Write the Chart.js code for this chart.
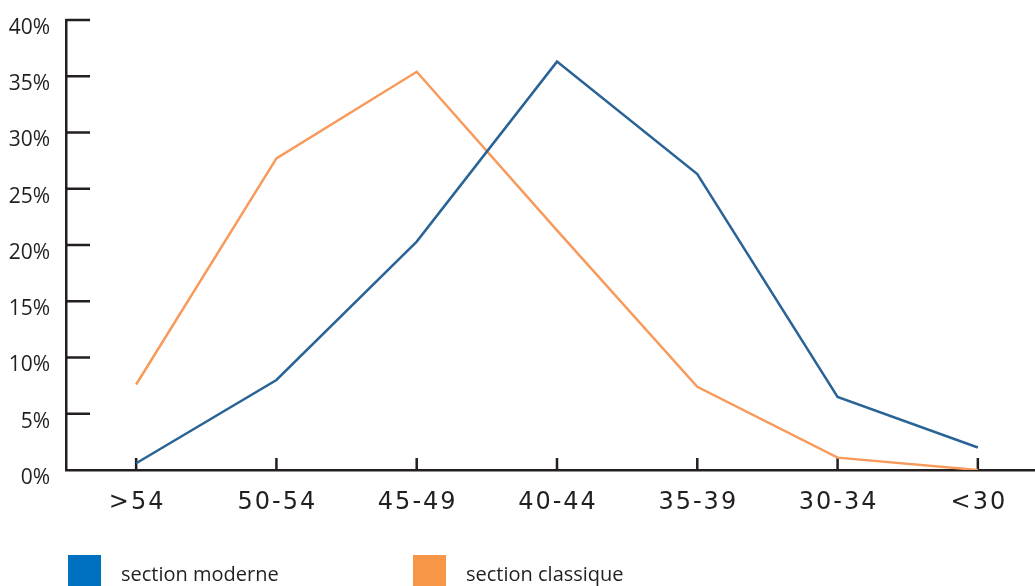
<!DOCTYPE html>
<html lang="fr">
<head>
    <meta charset="utf-8" />
    <title>Sections par tranche d'âge</title>
    <script src="https://cdn.jsdelivr.net/npm/chart.js@4.4.0/dist/chart.umd.min.js"></script>
    <style>
        html, body { margin: 0; padding: 0; background: #fff; overflow: hidden; }
        #wrap { width: 1048px; height: 586px; position: relative; }
    </style>
</head>
<body>
    <div id="wrap"><canvas id="chart"></canvas></div>
    <script>
        // Tranches d'âge et parts (%)
        const categories = ['>54', '50-54', '45-49', '40-44', '35-39', '30-34', '<30'];
        const moderne = [0.6, 8.0, 20.3, 36.3, 26.3, 6.5, 2.0];
        const classique = [7.6, 27.7, 35.4, 21.3, 7.4, 1.1, 0.0];
        const yTicks = [0, 5, 10, 15, 20, 25, 30, 35, 40];

        const axisColor = '#231f20';

        // Petits traits de graduation tournés vers l'intérieur + légende en bas
        const axisMarks = {
            id: 'axisMarks',
            beforeDraw(chart) {
                // les libellés de l'axe x sont espacés
                const sx = chart.scales.x;
                if (!sx._spaced) {
                    const orig = sx.drawLabels;
                    sx.drawLabels = function (area) {
                        this.ctx.save();
                        this.ctx.letterSpacing = '2px';
                        this.ctx.translate(1, 0);
                        orig.call(this, area);
                        this.ctx.restore();
                    };
                    sx._spaced = true;
                }
            },
            beforeDatasetsDraw(chart) {
                const ctx = chart.ctx;
                const x = chart.scales.x, y = chart.scales.y;
                ctx.save();
                ctx.strokeStyle = axisColor;
                ctx.lineWidth = 2.5;
                ctx.beginPath();
                yTicks.forEach(v => {
                    if (v === 0) return;
                    const py = y.getPixelForValue(v);
                    ctx.moveTo(chart.chartArea.left, py);
                    ctx.lineTo(chart.chartArea.left + 24, py);
                });
                categories.forEach((c, i) => {
                    const px = x.getPixelForValue(i);
                    ctx.moveTo(px, chart.chartArea.bottom);
                    ctx.lineTo(px, chart.chartArea.bottom - 12);
                });
                ctx.stroke();
                ctx.restore();
            },
            afterDraw(chart) {
                const ctx = chart.ctx;
                const starts = [68, 413];
                ctx.save();
                ctx.font = '20px "Open Sans", sans-serif';
                ctx.textBaseline = 'alphabetic';
                chart.data.datasets.forEach((ds, i) => {
                    ctx.fillStyle = ds.legendColor;
                    ctx.fillRect(starts[i], 555, 33, 33);
                    ctx.fillStyle = axisColor;
                    ctx.fillText(ds.label, starts[i] + 53, 581);
                });
                ctx.restore();
            }
        };

        new Chart(document.getElementById('chart'), {
            type: 'line',
            data: {
                labels: categories,
                datasets: [
                    {
                        label: 'section moderne',
                        data: moderne,
                        borderColor: '#2a6496',
                        legendColor: '#0070c0',
                        borderWidth: 2.5,
                        pointRadius: 0,
                        tension: 0
                    },
                    {
                        label: 'section classique',
                        data: classique,
                        borderColor: '#f79a5b',
                        legendColor: '#f79646',
                        borderWidth: 2.5,
                        pointRadius: 0,
                        tension: 0
                    }
                ]
            },
            options: {
                responsive: true,
                maintainAspectRatio: false,
                animation: false,
                layout: { padding: { top: 20, left: 0, right: 0, bottom: 0 } },
                plugins: {
                    legend: { display: false },
                    tooltip: { enabled: false }
                },
                scales: {
                    x: {
                        offset: true,
                        grid: { display: false, drawTicks: false },
                        border: { color: axisColor, width: 2.5 },
                        ticks: {
                            color: axisColor,
                            padding: 18,
                            maxRotation: 0,
                            font: { family: 'DejaVu Sans', size: 24 }
                        },
                        afterFit(scale) {
                            scale.height = 116;
                            scale.paddingLeft = 0;
                            scale.paddingRight = 0;
                        }
                    },
                    y: {
                        min: 0,
                        max: 40,
                        grid: { display: false, drawTicks: false },
                        border: { color: axisColor, width: 2.5 },
                        afterBuildTicks(scale) { scale.ticks = yTicks.map(v => ({ value: v })); },
                        ticks: {
                            color: axisColor,
                            padding: 16,
                            labelOffset: 8,
                            callback: v => v + '%',
                            font: { family: '"Open Sans", sans-serif', size: 21 }
                        },
                        afterFit(scale) {
                            scale.width = 66;
                            scale.paddingTop = 0;
                            scale.paddingBottom = 0;
                        }
                    }
                }
            },
            plugins: [axisMarks]
        });
    </script>
</body>
</html>
